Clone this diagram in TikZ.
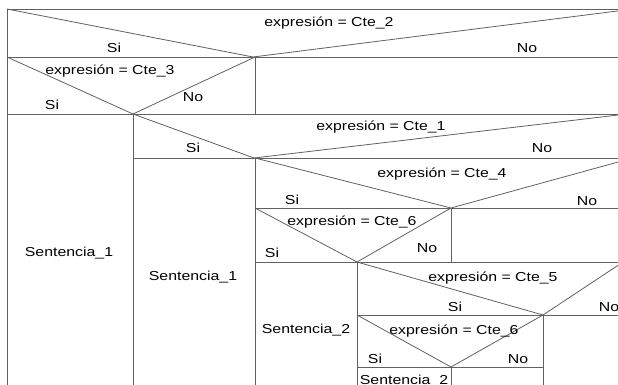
\documentclass[tikz,border=0pt]{standalone}
\usepackage{fontspec}
\newfontfamily\lblfont[FakeStretch=1.22]{Liberation Sans}
\begin{document}
\begin{tikzpicture}[x=1pt,y=-1pt,
  rule/.style={draw=black!62, line width=0.8pt},
  lbl/.style={anchor=base, inner sep=0pt, text=black,
              font=\lblfont\fontsize{13pt}{14pt}\selectfont}]
\useasboundingbox (0,0) rectangle (618,385);
\fill[white] (0,0) rectangle (618,385);

% vertices of the case triangles
\coordinate (v2) at (253,57);
\coordinate (v3) at (133,114);
\coordinate (v1) at (254,158);
\coordinate (v4) at (451,208);
\coordinate (v6) at (357,262);
\coordinate (v5) at (543,315);
\coordinate (v6b) at (451,367);

% frame rows
\draw[rule] (7,9) -- (620,9);
\draw[rule] (7,57) -- (620,57);
\draw[rule] (7,114) -- (620,114);
\draw[rule] (133,158) -- (620,158);
\draw[rule] (255,208) -- (620,208);
\draw[rule] (255,262) -- (620,262);
\draw[rule] (357,315) -- (620,315);
\draw[rule] (357,367) -- (543,367);

% columns
\draw[rule] (7,9) -- (7,390);
\draw[rule] (255,57) -- (255,114);
\draw[rule] (133,114) -- (133,390);
\draw[rule] (255,158) -- (255,390);
\draw[rule] (451,208) -- (451,262);
\draw[rule] (357,262) -- (357,390);
\draw[rule] (543,315) -- (543,390);
\draw[rule] (451,367) -- (451,390);

% condition diagonals
\draw[rule] (7,9) -- (v2) -- (620,10.7);
\draw[rule] (7,57) -- (v3) -- (255,57);
\draw[rule] (133,114) -- (v1) -- (620,114.8);
\draw[rule] (255,158) -- (v4) -- (620,161.5);
\draw[rule] (255,208) -- (v6) -- (451,208);
\draw[rule] (357,262) -- (v5) -- (620,264);
\draw[rule] (357,315) -- (v6b) -- (543,315);

% labels
\node[lbl] (c2) at (329,27) {expresión = Cte\_2};
\node[lbl] (s2) at (114,53) {Si};
\node[lbl] (n2) at (527,53) {No};
\node[lbl] (c3) at (110,75) {expresión = Cte\_3};
\node[lbl] (s3) at (52,110) {Si};
\node[lbl] (n3) at (193,102) {No};
\node[lbl] (a1) at (69,256) {Sentencia\_1};
\node[lbl] (c1) at (381,131) {expresión = Cte\_1};
\node[lbl] (s1) at (193,152) {Si};
\node[lbl] (n1) at (542,153) {No};
\node[lbl] (a2) at (193,280) {Sentencia\_1};
\node[lbl] (c4) at (442,177) {expresión = Cte\_4};
\node[lbl] (s4) at (292,204) {Si};
\node[lbl] (n4) at (587,205) {No};
\node[lbl] (c6) at (352,225) {expresión = Cte\_6};
\node[lbl] (s6) at (272,257) {Si};
\node[lbl] (n6) at (427,252) {No};
\node[lbl] (a3) at (306,333) {Sentencia\_2};
\node[lbl] (c5) at (493,281) {expresión = Cte\_5};
\node[lbl] (s5) at (455,311) {Si};
\node[lbl] (n5) at (609,311) {No};
\node[lbl] (c6b) at (454,334) {expresión = Cte\_6};
\node[lbl] (s6b) at (375,363) {Si};
\node[lbl] (n6b) at (518,363) {No};
\node[lbl] (a4) at (404,384.5) {Sentencia\_2};
\end{tikzpicture}
\end{document}
